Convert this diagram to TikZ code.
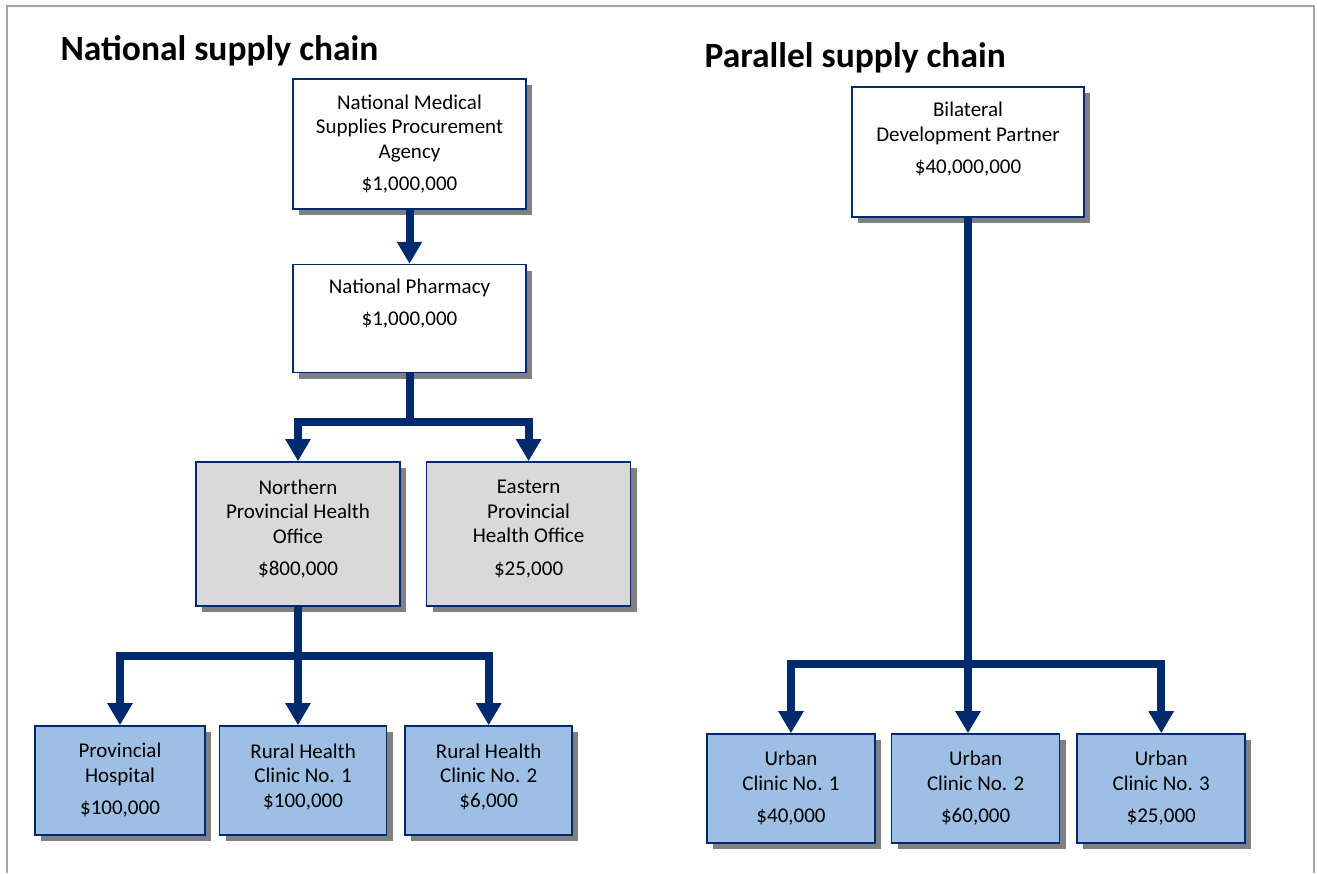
\documentclass[tikz,border=0pt]{standalone}
\usepackage{fontspec}
\setmainfont{Carlito}
\usetikzlibrary{arrows.meta,positioning,shadows}
\definecolor{navy}{RGB}{0,42,110}
\definecolor{officegrey}{RGB}{217,217,217}
\definecolor{clinicblue}{RGB}{158,191,228}
\definecolor{framegrey}{RGB}{165,165,165}
\tikzset{
block/.style = {draw=navy, line width=1.6pt, fill=white, rectangle, align=center,
  font=\fontsize{21}{24.5}\selectfont, inner sep=2pt,
  drop shadow={shadow xshift=6pt, shadow yshift=-6pt, fill=black!50, opacity=1}},
office/.style = {block, fill=officegrey, minimum width=204pt, minimum height=144pt},
clinic/.style = {block, fill=clinicblue, minimum height=109pt},
tmp/.style  = {coordinate},
flow/.style = {draw=navy, line width=8pt, line join=miter, -{Triangle[width=24pt,length=22pt]}},
title/.style = {anchor=base west, font=\fontsize{35.5}{40}\selectfont\bfseries}
}
\begin{document}
\begin{tikzpicture}[x=1pt, y=-1pt, node distance=20pt]
  \useasboundingbox (0,0) rectangle (1317,873);
  \draw [framegrey, line width=2pt] (7,873) -- (7,6) -- (1314,6) -- (1314,873);

  % national supply chain
  \node [title] (ntitle) at (57,60) {National supply chain};
  \node [block, minimum width=233pt, minimum height=130pt] (nmspa) at (409.5,144)
    {National Medical\\Supplies Procurement\\Agency\\[8pt]\$1,000,000};
  \node [block, minimum width=233pt, minimum height=108pt, below=54pt of nmspa] (np)
    {National Pharmacy\\[8pt]\$1,000,000\\[8pt]};
  \node [office] (npho) at (298,534)
    {Northern\\Provincial Health\\Office\\[8pt]\$800,000\\[-12pt]};
  \node [office, right=25pt of npho] (epho)
    {Eastern\\Provincial\\Health Office\\[8pt]\$25,000\\[-12pt]};
  \node [clinic, minimum width=170pt] (ph) at (120,780.5)
    {Provincial\\Hospital\\[8pt]\$100,000};
  \node [clinic, minimum width=167pt, right=13pt of ph] (rhc1)
    {Rural Health\\Clinic No. 1\\\$100,000\\[-14pt]};
  \node [clinic, minimum width=167pt, right=17pt of rhc1] (rhc2)
    {Rural Health\\Clinic No. 2\\\$6,000\\[-14pt]};

  \node [tmp, below=49pt of np.south]   (npfork)   {};
  \node [tmp, below=49pt of npho.south] (nphofork) {};

  \draw [flow] (nmspa) -- (np);
  \draw [flow] (np.south) -- (npfork) -| (npho.north);
  \draw [flow] (npfork) -| (epho.north);
  \draw [flow] (npho.south) -- (npho.south |- rhc1.north);
  \draw [flow] (nphofork) -| (ph.north);
  \draw [flow] (nphofork) -| (rhc2.north);

  % parallel supply chain
  \node [title] (ptitle) at (701,67) {Parallel supply chain};
  \node [block, minimum width=232pt, minimum height=130pt] (bdp) at (968,152)
    {Bilateral\\Development Partner\\[8pt]\$40,000,000\\[4pt]};
  \node [clinic, minimum width=168pt] (uc1) at (791,788.5)
    {Urban\\Clinic No. 1\\[8pt]\$40,000};
  \node [clinic, minimum width=168pt, right=15pt of uc1] (uc2)
    {Urban\\Clinic No. 2\\[8pt]\$60,000};
  \node [clinic, minimum width=168pt, right=16pt of uc2] (uc3)
    {Urban\\Clinic No. 3\\[8pt]\$25,000};

  \node [tmp, below=446pt of bdp.south] (bdpfork) {};

  \draw [flow] (bdp.south) -- (bdp.south |- uc2.north);
  \draw [flow] (bdpfork) -| (uc1.north);
  \draw [flow] (bdpfork) -| (uc3.north);
\end{tikzpicture}
\end{document}
